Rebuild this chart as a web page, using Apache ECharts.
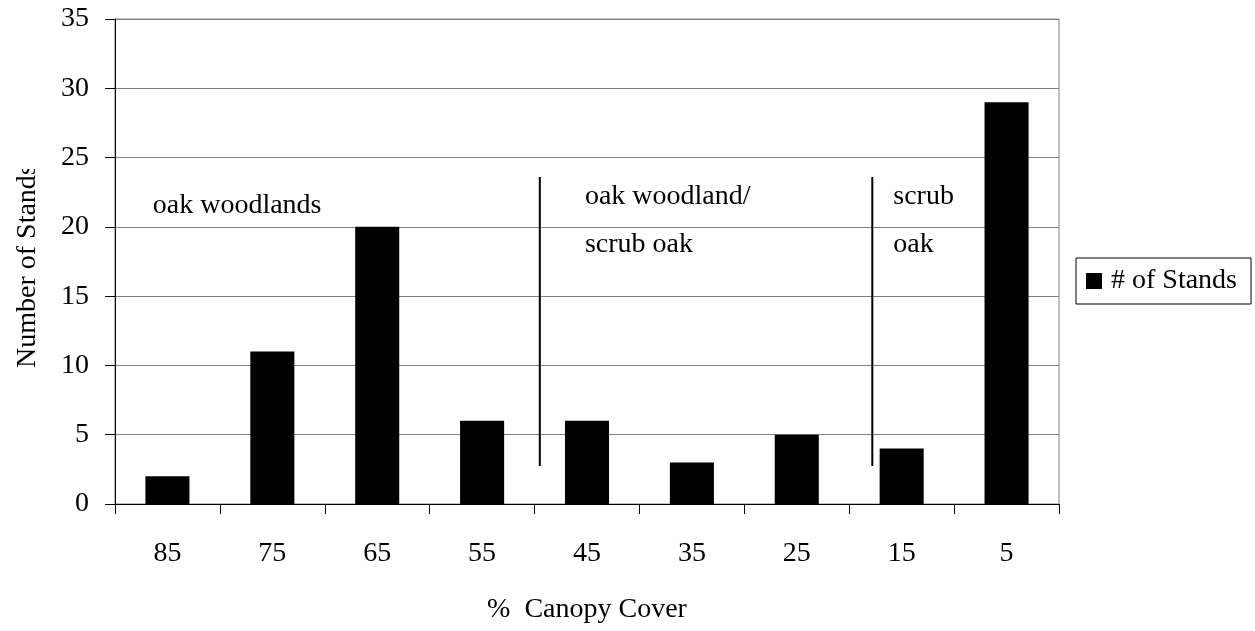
<!DOCTYPE html>
<html>
<head>
<meta charset="utf-8">
<script src="https://cdn.jsdelivr.net/npm/echarts@6/dist/echarts.min.js"></script>
<style>
  html, body { margin: 0; padding: 0; background: #fff; }
  #chart { width: 1255px; height: 631px; }
</style>
</head>
<body>
<div id="chart"></div>
<script>
// Stand counts by canopy cover class
const categories = ['85', '75', '65', '55', '45', '35', '25', '15', '5'];
const standCounts = [2, 11, 20, 6, 6, 3, 5, 4, 29];
const yMin = 0, yMax = 35, yStep = 5;

// Zone dividers (x in category-index units, y in stand counts)
const dividerX = [3.55, 6.72];
const dividerYRange = [2.74, 23.6];

// Zone captions (x = left edge in category-index units, y = vertical middle in stand counts)
const zoneTexts = ['oak woodlands', 'oak woodland/\nscrub oak', 'scrub\noak'];
const zoneTextX = [-0.14, 3.98, 6.92];
const zoneTextY = [21.5, 20.42, 20.42];

const FONT = '"Liberation Serif", "Times New Roman", serif';

const chart = echarts.init(document.getElementById('chart'));

chart.setOption({
  animation: false,
  backgroundColor: '#fff',
  grid: {
    left: 115, right: 196, top: 19, bottom: 127,
    show: true, borderColor: '#808080', borderWidth: 1, backgroundColor: 'transparent'
  },
  legend: {
    data: ['# of Stands'],
    orient: 'vertical',
    left: 1076, top: 258,
    padding: [9, 14, 9, 10],
    borderColor: '#000', borderWidth: 1,
    itemWidth: 16, itemHeight: 16, icon: 'rect',
    textStyle: { fontFamily: FONT, fontSize: 28, color: '#000', padding: [0, 0, 0, 4] }
  },
  xAxis: [{
    type: 'category',
    data: categories,
    name: '%  Canopy Cover',
    nameLocation: 'middle',
    nameGap: 92,
    nameTextStyle: { fontFamily: FONT, fontSize: 28, color: '#000' },
    axisLine: { lineStyle: { color: '#000', width: 1 } },
    axisTick: { show: true, length: 10, lineStyle: { color: '#000' } },
    axisLabel: { fontFamily: FONT, fontSize: 28, color: '#000', margin: 36 },
    splitLine: { show: false }
  }, {
    type: 'value', min: -0.5, max: 8.5, show: false
  }],
  yAxis: {
    type: 'value',
    min: yMin, max: yMax, interval: yStep,
    axisLine: { show: true, onZero: false, lineStyle: { color: '#000', width: 1 } },
    axisTick: { show: true, length: 10, lineStyle: { color: '#000' } },
    axisLabel: { fontFamily: FONT, fontSize: 28, color: '#000', margin: 26 },
    splitLine: { show: true, lineStyle: { color: '#808080', width: 1 } }
  },
  series: [{
    name: '# of Stands',
    type: 'bar',
    xAxisIndex: 0,
    data: standCounts,
    barWidth: '42%',
    itemStyle: { color: '#000' }
  }]
});

// Dividers and captions placed through the chart's own scales
const toPx = (x, y) => chart.convertToPixel({ xAxisIndex: 1, yAxisIndex: 0 }, [x, y]);
const graphics = [];
dividerX.forEach(x => {
  const p1 = toPx(x, dividerYRange[0]);
  const p2 = toPx(x, dividerYRange[1]);
  graphics.push({
    type: 'line', z: 10,
    shape: { x1: p1[0], y1: p1[1], x2: p2[0], y2: p2[1] },
    style: { stroke: '#000', lineWidth: 2 }
  });
});
zoneTexts.forEach((t, i) => {
  const p = toPx(zoneTextX[i], zoneTextY[i]);
  graphics.push({
    type: 'text', z: 10, x: p[0], y: p[1],
    style: {
      text: t, fill: '#000', font: '28px ' + FONT,
      lineHeight: 48, align: 'left', verticalAlign: 'middle'
    }
  });
});
// Y axis title, its box cut off at the upper end
graphics.push({
  type: 'text', z: 10, x: 28, y: 368, rotation: Math.PI / 2,
  style: {
    text: 'Number of Stands', fill: '#000', font: '28px ' + FONT,
    align: 'left', verticalAlign: 'middle'
  }
});
graphics.push({
  type: 'rect', z: 100,
  shape: { x: 0, y: 0, width: 44, height: 169 },
  style: { fill: '#fff' }
});
chart.setOption({ graphic: graphics });
</script>
</body>
</html>
